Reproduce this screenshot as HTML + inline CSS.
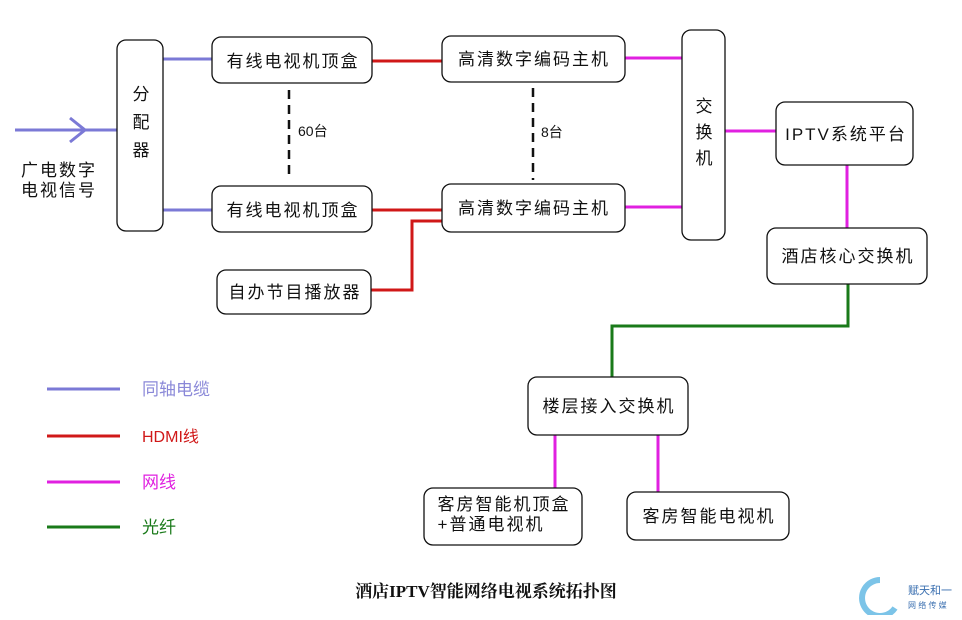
<!DOCTYPE html>
<html><head><meta charset="utf-8"><style>
body{margin:0;background:#fff}
text{font-family:"Liberation Sans","Noto Sans CJK SC",sans-serif;font-size:17px;fill:#111}
.b{letter-spacing:2px}
</style></head><body>
<svg width="962" height="615" viewBox="0 0 962 615" xmlns="http://www.w3.org/2000/svg">
<g fill="none" stroke-width="3">
<path d="M15 130H117M70 118L85 130L70 142" stroke="#7b79d6"/>
<path d="M163 59H212M163 210H212" stroke="#7b79d6"/>
<path d="M372 61H442M372 210H442M371 290H412V221H442" stroke="#d01818"/>
<path d="M625 58H682M625 207H682M725 131H776M847 165V228M555 435V488M658 435V492" stroke="#e020e0"/>
<path d="M848 284V326H612V377" stroke="#1a7a1a"/>
<path d="M289 90V180M533 88V180" stroke="#111" stroke-dasharray="9,6" stroke-width="2.5"/>
<path d="M47 389H120" stroke="#7b79d6"/>
<path d="M47 436H120" stroke="#d01818"/>
<path d="M47 482H120" stroke="#e020e0"/>
<path d="M47 527H120" stroke="#1a7a1a"/>
</g>
<g fill="#fff" stroke="#111" stroke-width="1.3">
<rect x="117" y="40" width="46" height="191" rx="9"/>
<rect x="212" y="37" width="160" height="46" rx="9"/>
<rect x="212" y="186" width="160" height="46" rx="9"/>
<rect x="217" y="270" width="154" height="44" rx="9"/>
<rect x="442" y="36" width="183" height="46" rx="9"/>
<rect x="442" y="184" width="183" height="48" rx="9"/>
<rect x="682" y="30" width="43" height="210" rx="9"/>
<rect x="776" y="102" width="137" height="63" rx="9"/>
<rect x="767" y="228" width="160" height="56" rx="9"/>
<rect x="528" y="377" width="160" height="58" rx="9"/>
<rect x="424" y="488" width="158" height="57" rx="9"/>
<rect x="627" y="492" width="162" height="48" rx="9"/>
</g>
<g text-anchor="middle" class="b">
<text x="142" y="100">分</text><text x="142" y="128">配</text><text x="142" y="156">器</text>
<text x="293" y="67">有线电视机顶盒</text>
<text x="293" y="216">有线电视机顶盒</text>
<text x="295" y="298">自办节目播放器</text>
<text x="534" y="65">高清数字编码主机</text>
<text x="534" y="214">高清数字编码主机</text>
<text x="705" y="112">交</text><text x="705" y="138">换</text><text x="705" y="164">机</text>
<text x="846" y="140">IPTV系统平台</text>
<text x="848" y="262">酒店核心交换机</text>
<text x="609" y="412">楼层接入交换机</text>
<text x="504" y="510">客房智能机顶盒</text>
<text x="491" y="530">+普通电视机</text>
<text x="709" y="522">客房智能电视机</text>
<text x="59" y="176">广电数字</text>
<text x="59" y="196">电视信号</text>
</g>
<text x="298" y="136" style="font-size:14px">60台</text>
<text x="541" y="137" style="font-size:14px">8台</text>
<text x="142" y="395" style="fill:#8a88d8">同轴电缆</text>
<text x="142" y="442" style="fill:#d01818;font-size:16px">HDMI线</text>
<text x="142" y="488" style="fill:#e020e0">网线</text>
<text x="142" y="533" style="fill:#1a7a1a">光纤</text>
<text x="486" y="597" text-anchor="middle" style="font-family:'Liberation Serif','Noto Serif CJK SC',serif;font-weight:bold;font-size:17px">酒店IPTV智能网络电视系统拓扑图</text>
<path d="M880 580A18 18 0 1 0 895 608" fill="none" stroke="#7cc4e8" stroke-width="6"/>
<text x="908" y="594" style="font-size:11px;fill:#3a6fb0">赋天和一</text>
<text x="908" y="608" style="font-size:8px;fill:#3a6fb0">网 络 传 媒</text>
</svg>
</body></html>
